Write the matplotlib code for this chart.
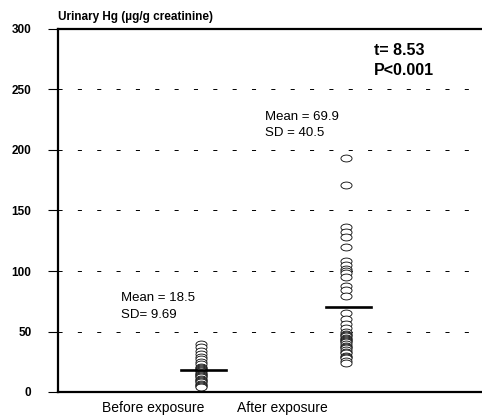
import matplotlib
matplotlib.use("Agg")
import matplotlib.pyplot as plt
import numpy as np

plt.rcParams['font.family'] = ['Liberation Sans', 'DejaVu Sans']

# (µg/g creatinine)
groups = ["Before exposure", "After exposure"]
before = [40, 37, 34, 31, 29, 27, 25, 23, 21, 20, 19, 18, 17, 16, 15,
          14, 13, 12, 11, 10, 9, 8, 7, 6, 5, 4]
after = [193, 171, 136, 132, 128, 120, 108, 105, 102, 100, 98, 95, 88, 84, 79,
         65, 60, 56, 53, 50, 48, 47, 46, 45, 44, 43, 42, 41, 40, 38, 37, 36,
         35, 33, 32, 30, 29, 28, 26, 24]
means = [18.5, 69.9]
sds = [9.69, 40.5]
yticks = [0, 50, 100, 150, 200, 250, 300]

fig = plt.figure(figsize=(4.82, 4.16), dpi=100)
ax = fig.add_axes([58/482, 24/416, 424/482, 363/416])

# open ellipse marker
t = np.linspace(0, 2*np.pi, 40)
ell = np.column_stack([np.cos(t), 0.62*np.sin(t)])

xpos = [1, 2]
for x, vals in zip(xpos, [before, after]):
    ax.plot([x]*len(vals), vals, linestyle='none', marker=ell, markersize=8,
            markerfacecolor='white', markeredgecolor='black',
            markeredgewidth=0.6, zorder=3)

for x, m in zip(xpos, means):
    ax.plot([x - 0.14, x + 0.17], [m, m], color='black', lw=1.9, zorder=4)

ax.set_xlim(0.0138, 2.938)
ax.set_ylim(0, 300)
ax.set_yticks(yticks)
ax.set_yticklabels([str(v) for v in yticks], fontsize=8.5, fontweight='bold')
ax.set_xticks([])
for v in yticks[1:-1]:
    ax.axhline(v, color='black', lw=0.7, dashes=(4.2, 15.7), zorder=1)

ax.spines['right'].set_visible(False)
for s in ['left', 'bottom', 'top']:
    ax.spines[s].set_linewidth(1.6)
ax.tick_params(axis='y', length=7, width=0.8, pad=12)

fig.text(58/482, 1 - 17/416, "Urinary Hg (µg/g creatinine)", fontsize=8.5,
         fontweight='bold', va='center', ha='left')

ax.text(0.45, 78, f"Mean = {means[0]}", fontsize=9.5, va='center')
ax.text(0.45, 64, f"SD= {sds[0]}", fontsize=9.5, va='center')
ax.text(1.44, 227, f"Mean = {means[1]}", fontsize=9.5, va='center')
ax.text(1.44, 214, f"SD = {sds[1]}", fontsize=9.5, va='center')
ax.text(2.19, 282, "t= 8.53", fontsize=11.5, fontweight='bold', va='center')
ax.text(2.19, 266, "P<0.001", fontsize=11.5, fontweight='bold', va='center')

fig.text(153/482, 1 - 408/416, groups[0], fontsize=10, ha='center', va='center')
fig.text(282/482, 1 - 408/416, groups[1], fontsize=10, ha='center', va='center')

fig.savefig("out.png", dpi=100)
